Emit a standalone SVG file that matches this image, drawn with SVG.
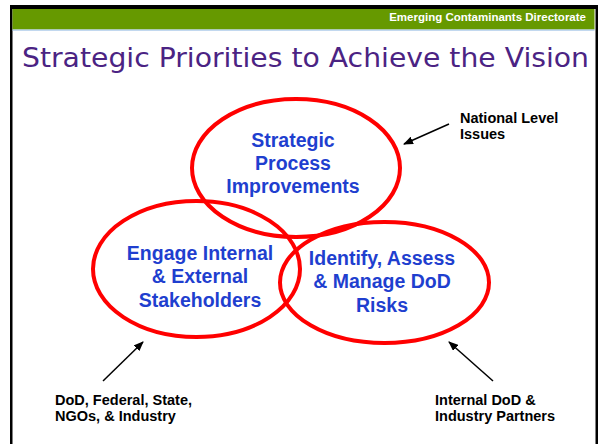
<svg xmlns="http://www.w3.org/2000/svg" width="600" height="444" viewBox="0 0 600 444">
<style>
.ell{fill:none;stroke:#ff0000;stroke-width:4}
.nt{font-family:"Liberation Sans",Arial,sans-serif;font-weight:bold;font-size:19.5px;fill:#1f3fcf;text-anchor:middle}
.lb{font-family:"Liberation Sans",Arial,sans-serif;font-weight:bold;font-size:14.5px;fill:#000}
.ar{stroke:#000;stroke-width:1.5;fill:none;marker-end:url(#ah)}
</style>
<defs>
<marker id="ah" markerWidth="10" markerHeight="8" refX="9" refY="4" orient="auto" markerUnits="userSpaceOnUse">
<path d="M0,0 L10,4 L0,8 Z" fill="#000"/>
</marker>
</defs>
<rect x="0" y="0" width="600" height="444" fill="#fff"/>
<rect x="10" y="5" width="588" height="445" fill="#000"/>
<rect x="12.5" y="9" width="583" height="440" fill="#fff"/>
<rect x="12.5" y="9" width="582" height="20.5" fill="#669900"/>
<rect x="12.5" y="29.5" width="582" height="1.2" fill="#a8c8e8"/>
<text x="586" y="20.5" font-family="'Liberation Sans',Arial,sans-serif" font-weight="bold" font-size="11.5" fill="#fff" text-anchor="end">Emerging Contaminants Directorate</text>
<text x="22" y="66.5" font-family="'DejaVu Sans',Verdana,sans-serif" font-size="26" fill="#4b2383" textLength="567" lengthAdjust="spacingAndGlyphs">Strategic Priorities to Achieve the Vision</text>
<g id="node-top">
<ellipse class="ell" cx="296" cy="168" rx="104" ry="69"/>
<text class="nt" x="293" y="147">Strategic</text>
<text class="nt" x="293" y="170">Process</text>
<text class="nt" x="293" y="193">Improvements</text>
</g>
<g id="node-left">
<ellipse class="ell" cx="196.5" cy="269" rx="103.5" ry="68"/>
<text class="nt" x="200" y="260">Engage Internal</text>
<text class="nt" x="200" y="283">&amp; External</text>
<text class="nt" x="200" y="307">Stakeholders</text>
</g>
<g id="node-right">
<ellipse class="ell" cx="384.5" cy="282.5" rx="104.5" ry="60.5"/>
<text class="nt" x="382" y="265">Identify, Assess</text>
<text class="nt" x="382" y="288">&amp; Manage DoD</text>
<text class="nt" x="382" y="312">Risks</text>
</g>
<g id="label-national">
<text class="lb" x="460" y="123">National Level</text>
<text class="lb" x="460" y="139">Issues</text>
</g>
<g id="label-dod">
<text class="lb" x="55" y="405">DoD, Federal, State,</text>
<text class="lb" x="55" y="421">NGOs, &amp; Industry</text>
</g>
<g id="label-internal">
<text class="lb" x="435" y="405">Internal DoD &amp;</text>
<text class="lb" x="435" y="421">Industry Partners</text>
</g>
<g id="connectors">
<line class="ar" x1="449" y1="124" x2="404" y2="144"/>
<line class="ar" x1="103" y1="381" x2="143" y2="342"/>
<line class="ar" x1="493" y1="381" x2="449" y2="342"/>
</g>
</svg>
